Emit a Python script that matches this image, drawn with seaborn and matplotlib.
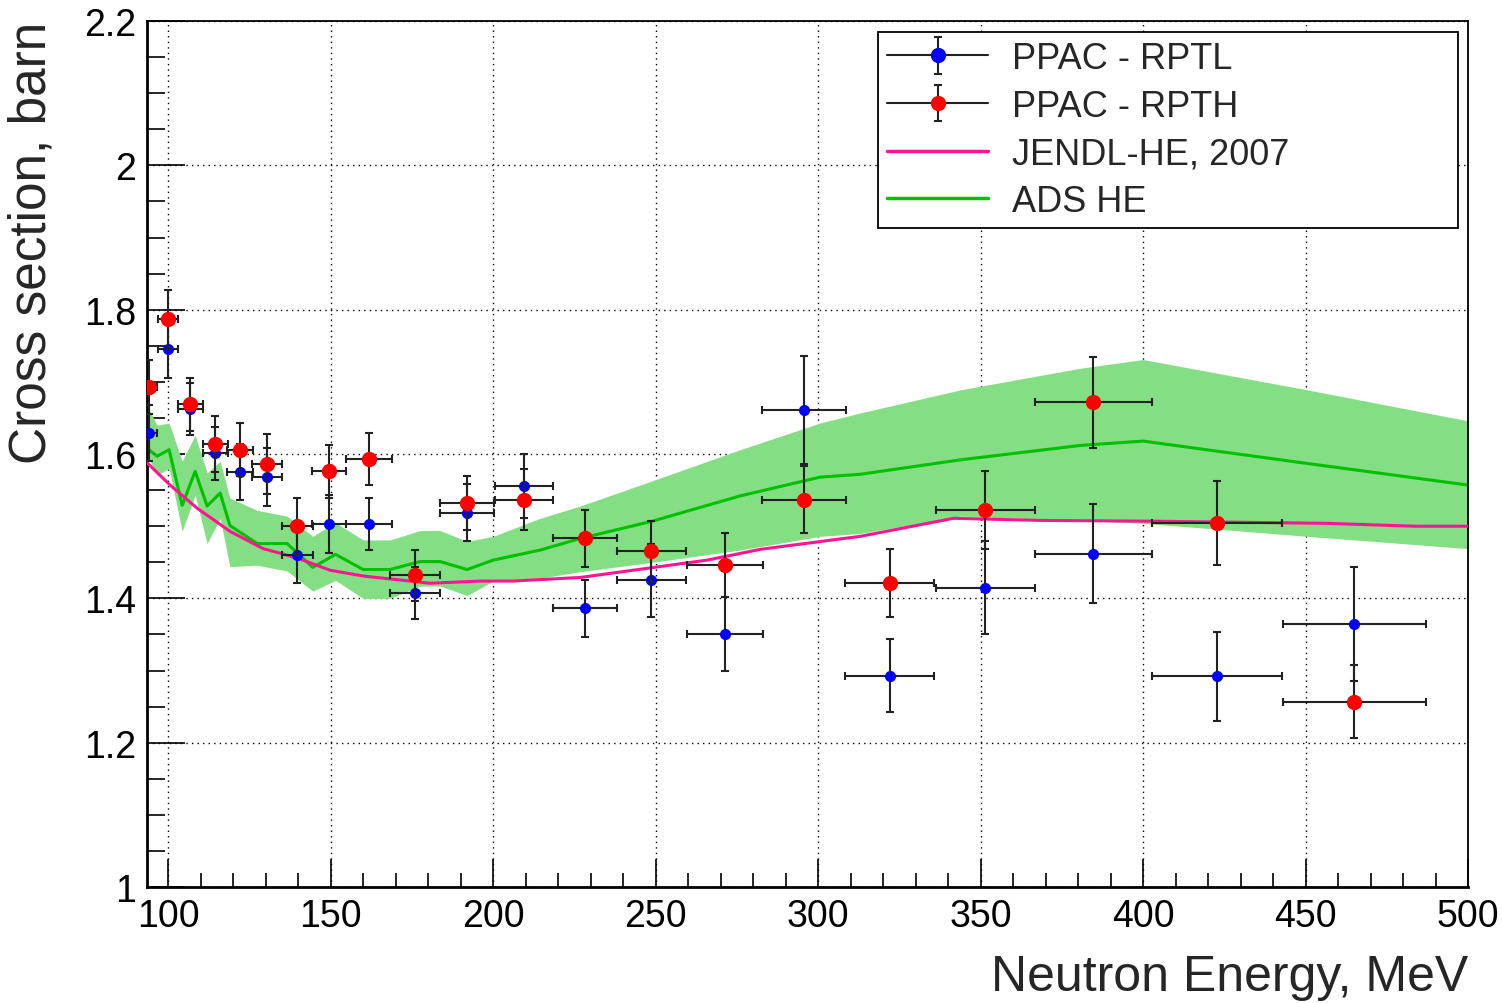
import numpy as np
import pandas as pd
import seaborn as sns
import matplotlib
matplotlib.use("Agg")
import matplotlib.pyplot as plt
from matplotlib.lines import Line2D
from matplotlib.legend_handler import HandlerTuple
from matplotlib.ticker import MultipleLocator, FuncFormatter

# measured points (energy, MeV)
energy = [94.2, 100.0, 106.8, 114.5, 122.2, 130.5, 139.7, 149.5, 161.8, 176.0, 192.0,
          209.5, 228.3, 248.6, 271.4, 295.7, 322.0, 351.4, 384.6, 422.8, 465.0]
energy_err = [2.5, 3.0, 3.8, 3.9, 4.0, 4.6, 4.8, 5.2, 7.0, 7.7, 8.3,
              9.0, 9.8, 10.6, 11.7, 12.9, 13.8, 15.2, 18.0, 20.0, 22.0]

rptl = [1.629, 1.746, 1.662, 1.601, 1.575, 1.568, 1.460, 1.503, 1.503, 1.407, 1.519,
        1.556, 1.386, 1.425, 1.351, 1.661, 1.293, 1.415, 1.462, 1.292, 1.364]
rptl_err = [0.039, 0.040, 0.036, 0.037, 0.039, 0.040, 0.039, 0.040, 0.036, 0.036, 0.039,
            0.044, 0.040, 0.051, 0.051, 0.075, 0.051, 0.065, 0.069, 0.062, 0.079]

rpth = [1.693, 1.787, 1.669, 1.614, 1.606, 1.586, 1.500, 1.576, 1.593, 1.432, 1.532,
        1.537, 1.483, 1.465, 1.446, 1.537, 1.421, 1.522, 1.672, 1.504, 1.257]
rpth_err = [0.038, 0.040, 0.037, 0.039, 0.037, 0.042, 0.039, 0.037, 0.036, 0.035, 0.037,
            0.042, 0.040, 0.042, 0.044, 0.047, 0.047, 0.054, 0.063, 0.058, 0.050]

# JENDL-HE, 2007 evaluation
jendl_x = [93.5, 100.6, 108.9, 119.0, 129.2, 139.7, 149.8, 160.0, 180.6, 196.0, 206.0,
           226.8, 265.8, 282.3, 313.0, 341.7, 369.0, 402.8, 456.6, 483.7, 500.0]
jendl_y = [1.588, 1.557, 1.525, 1.493, 1.469, 1.456, 1.439, 1.431, 1.421, 1.424, 1.424,
           1.429, 1.453, 1.468, 1.486, 1.511, 1.508, 1.507, 1.504, 1.500, 1.500]

# ADS HE calculation with its uncertainty band
ads_x = [93.5, 96.6, 100.3, 104.3, 108.3, 112.0, 116.0, 119.0, 127.4, 136.6, 144.5,
         151.5, 160.0, 168.3, 177.5, 183.7, 192.0, 200.0, 214.5, 226.8, 249.0, 276.0,
         300.6, 313.0, 343.8, 380.8, 400.0, 422.8, 450.5, 500.0]
ads_y = [1.608, 1.597, 1.606, 1.529, 1.576, 1.528, 1.546, 1.501, 1.476, 1.476, 1.443,
         1.461, 1.440, 1.440, 1.451, 1.451, 1.440, 1.453, 1.467, 1.483, 1.507, 1.542,
         1.568, 1.572, 1.592, 1.612, 1.618, 1.604, 1.587, 1.557]
ads_hi = [1.667, 1.640, 1.643, 1.590, 1.626, 1.574, 1.590, 1.539, 1.522, 1.514, 1.486,
          1.505, 1.481, 1.481, 1.494, 1.494, 1.479, 1.486, 1.511, 1.528, 1.563, 1.606,
          1.643, 1.657, 1.689, 1.719, 1.731, 1.712, 1.689, 1.646]
ads_lo = [1.599, 1.571, 1.580, 1.493, 1.543, 1.476, 1.511, 1.444, 1.446, 1.438, 1.410,
          1.425, 1.400, 1.400, 1.417, 1.417, 1.404, 1.424, 1.428, 1.437, 1.450, 1.467,
          1.486, 1.490, 1.514, 1.508, 1.504, 1.496, 1.486, 1.469]

sns.set_style("ticks")
plt.rcParams['font.family'] = ['Liberation Sans', 'DejaVu Sans']

fig = plt.figure(figsize=(15.02, 10.04), dpi=100)
ax = fig.add_axes([0.0979, 0.1155, 0.8795, 0.8625])

ax.fill_between(ads_x, ads_lo, ads_hi, color='#84de84', lw=0, zorder=1)

df_j = pd.DataFrame({'x': jendl_x, 'y': jendl_y})
df_a = pd.DataFrame({'x': ads_x, 'y': ads_y})
sns.lineplot(data=df_j, x='x', y='y', ax=ax, color='#ff1493', lw=2.2, zorder=3, sort=False)
sns.lineplot(data=df_a, x='x', y='y', ax=ax, color='#00c000', lw=2.2, zorder=2, sort=False)

ekw = dict(fmt='o', ecolor='#222222', elinewidth=1.5, capsize=3, capthick=1.5)
ax.errorbar(energy, rptl, xerr=energy_err, yerr=rptl_err, color='blue', ms=7, zorder=5, **ekw)
ax.errorbar(energy, rpth, xerr=energy_err, yerr=rpth_err, color='red', ms=10, zorder=6, **ekw)

# legend proxies: horizontal line + marker with vertical error bar
p_l = ax.errorbar([np.nan], [np.nan], yerr=[0.1], color='blue', ms=10, **ekw)
p_h = ax.errorbar([np.nan], [np.nan], yerr=[0.1], color='red', ms=10, **ekw)
bar = Line2D([], [], color='#222222', lw=1.5)
l_j = Line2D([], [], color='#ff1493', lw=2.5)
l_a = Line2D([], [], color='#00c000', lw=2.5)

ax.set_xlim(93.5, 500)
ax.set_ylim(1, 2.2)
ax.xaxis.set_major_locator(MultipleLocator(50))
ax.xaxis.set_minor_locator(MultipleLocator(10))
ax.yaxis.set_major_locator(MultipleLocator(0.2))
ax.yaxis.set_minor_locator(MultipleLocator(0.05))
ax.yaxis.set_major_formatter(FuncFormatter(lambda v, p: '%g' % round(v, 2)))

ax.grid(True, which='major', color='black', ls=(0, (1, 3)), lw=1)
ax.tick_params(axis='both', which='both', direction='in', top=False, right=False,
               labelsize=27, colors='black')
ax.tick_params(axis='y', which='major', length=27, width=1.2, pad=8)
ax.tick_params(axis='y', which='minor', length=13, width=1.2)
ax.tick_params(axis='x', which='major', length=20, width=1.2, pad=8)
ax.tick_params(axis='x', which='minor', length=10, width=1.2)
for s in ax.spines.values():
    s.set_color('black')
    s.set_linewidth(1.3)
ax.spines['left'].set_linewidth(2)
ax.spines['bottom'].set_linewidth(2)

ax.set_xlabel('Neutron Energy, MeV', fontsize=36, loc='right', labelpad=14)
ax.set_ylabel('Cross section, barn', fontsize=37, loc='top', labelpad=20)

leg = ax.legend([(bar, p_l), (bar, p_h), l_j, l_a],
                ['PPAC - RPTL', 'PPAC - RPTH', 'JENDL-HE, 2007', 'ADS HE'],
                handler_map={tuple: HandlerTuple(ndivide=1)},
                loc='upper left', bbox_to_anchor=(0.5534, 0.7644, 0.439, 0.2229),
                mode='expand', fontsize=26, frameon=True, fancybox=False,
                edgecolor='black', framealpha=1, handlelength=2.8, borderpad=0.25,
                labelspacing=0.35, handletextpad=0.65, borderaxespad=0)
leg.get_frame().set_linewidth(1.3)

fig.savefig('out.png', dpi=100, facecolor='white')
